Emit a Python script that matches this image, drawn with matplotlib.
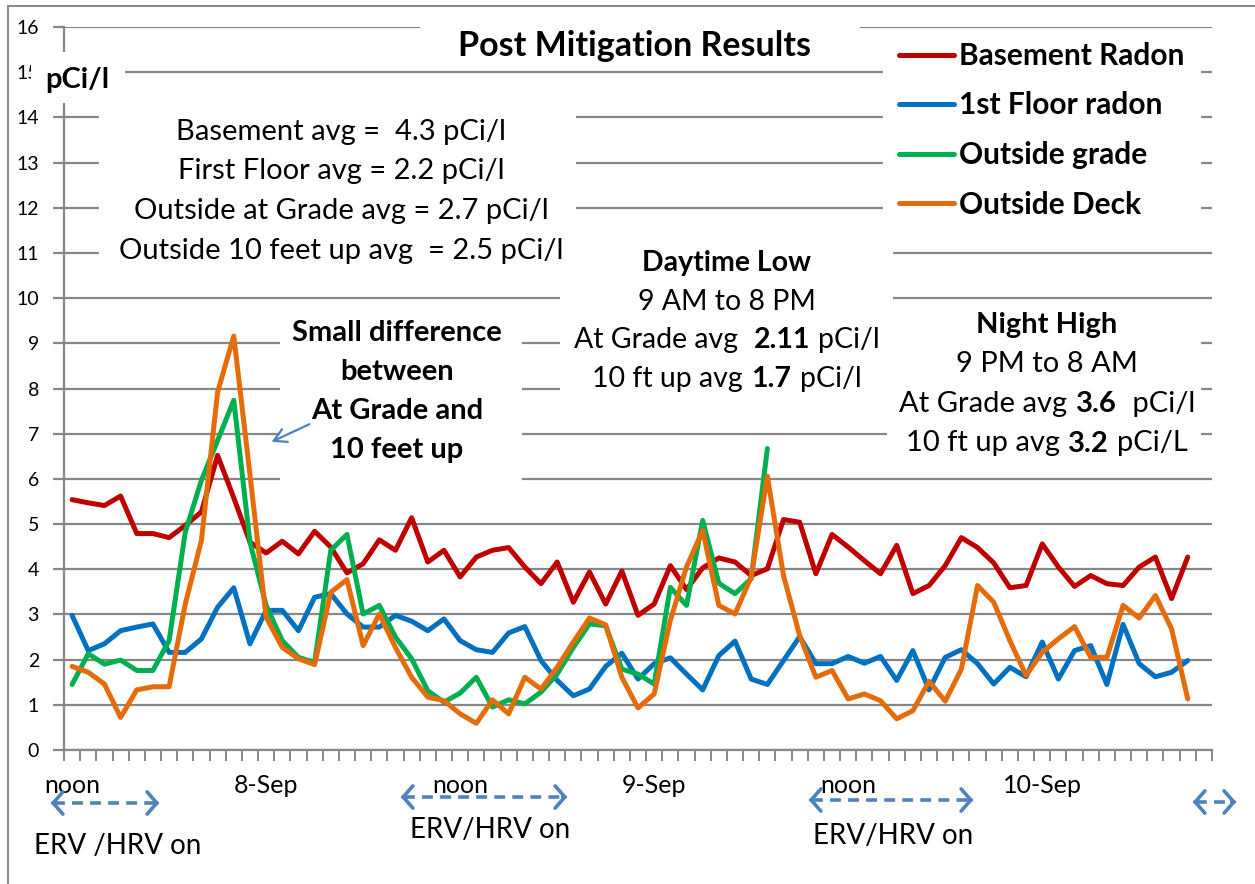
import matplotlib
matplotlib.use("Agg")
import matplotlib.pyplot as plt
import numpy as np
from matplotlib.patches import Rectangle
from matplotlib.lines import Line2D
from matplotlib.offsetbox import TextArea, HPacker, AnnotationBbox

plt.rcParams['font.family'] = ['Lato', 'DejaVu Sans']

# hourly readings, starting at noon on 7-Sep
basement = [5.54, 5.47, 5.41, 5.62, 4.79, 4.79, 4.70, 4.97, 5.27, 6.52,
            5.58, 4.60, 4.36, 4.62, 4.34, 4.84, 4.49, 3.92, 4.12, 4.65,
            4.42, 5.14, 4.16, 4.42, 3.83, 4.27, 4.42, 4.48, 4.05, 3.68,
            4.16, 3.27, 3.94, 3.23, 3.96, 2.98, 3.23, 4.08, 3.55, 4.03,
            4.25, 4.16, 3.86, 4.01, 5.10, 5.04, 3.90, 4.77, 4.49, 4.19,
            3.90, 4.53, 3.46, 3.64, 4.08, 4.70, 4.48, 4.14, 3.59, 3.64,
            4.56, 4.05, 3.62, 3.86, 3.68, 3.64, 4.05, 4.27, 3.35, 4.27]
first_floor = [2.98, 2.20, 2.35, 2.64, 2.72, 2.79, 2.16, 2.16, 2.46, 3.16,
               3.59, 2.35, 3.09, 3.09, 2.64, 3.38, 3.46, 3.01, 2.72, 2.72,
               2.98, 2.85, 2.64, 2.90, 2.42, 2.22, 2.16, 2.59, 2.73, 1.98,
               1.54, 1.20, 1.35, 1.85, 2.14, 1.57, 1.91, 2.04, 1.68, 1.33,
               2.09, 2.41, 1.57, 1.45, 1.98, 2.51, 1.91, 1.91, 2.07, 1.92,
               2.07, 1.54, 2.20, 1.33, 2.05, 2.22, 1.91, 1.46, 1.83, 1.62,
               2.39, 1.57, 2.20, 2.31, 1.45, 2.78, 1.91, 1.62, 1.72, 1.98]
outside_grade = [1.45, 2.13, 1.90, 1.99, 1.76, 1.76, 2.42, 4.82, 5.97, 6.85,
                 7.74, 4.60, 3.20, 2.42, 2.05, 1.94, 4.42, 4.77, 3.01, 3.20,
                 2.50, 2.02, 1.31, 1.06, 1.26, 1.61, 0.95, 1.11, 1.02, 1.28,
                 1.68, 2.27, 2.79, 2.75, 1.79, 1.68, 1.46, 3.60, 3.20, 5.08,
                 3.69, 3.46, 3.79, 6.67]
outside_deck = [1.85, 1.72, 1.46, 0.72, 1.33, 1.40, 1.40, 3.23, 4.64, 7.92,
                9.16, 6.10, 2.94, 2.27, 2.02, 1.89, 3.49, 3.77, 2.31, 3.01,
                2.27, 1.61, 1.17, 1.09, 0.80, 0.59, 1.11, 0.80, 1.61, 1.35,
                1.83, 2.39, 2.92, 2.77, 1.61, 0.93, 1.24, 2.87, 4.05, 4.86,
                3.20, 3.01, 3.83, 6.06, 3.86, 2.53, 1.61, 1.76, 1.13, 1.24,
                1.09, 0.69, 0.87, 1.52, 1.08, 1.79, 3.64, 3.27, 2.42, 1.65,
                2.16, 2.46, 2.73, 2.05, 2.05, 3.20, 2.92, 3.42, 2.68, 1.13]

n_slots = 71
label_pos = [0, 12, 24, 36, 48, 60]
label_txt = ['noon', '8-Sep', 'noon', '9-Sep', 'noon', '10-Sep']

series = [('Basement Radon', basement, '#C00000'),
          ('1st Floor radon', first_floor, '#0070C0'),
          ('Outside grade', outside_grade, '#00B050'),
          ('Outside Deck', outside_deck, '#E46C0A')]

avg_lines = ['Basement avg =  4.3 pCi/l',
             'First Floor avg = 2.2 pCi/l',
             'Outside at Grade avg = 2.7 pCi/l',
             'Outside 10 feet up avg  = 2.5 pCi/l']
note_lines = ['Small difference', 'between', 'At Grade and', '10 feet up']
day_lines = [[('Daytime Low', True)],
             [('9 AM to 8 PM', False)],
             [('At Grade avg ', False), ('2.11', True), ('pCi/l', False)],
             [('10 ft up avg', False), ('1.7', True), ('pCi/l', False)]]
night_lines = [[('Night High', True)],
               [('9 PM to 8 AM', False)],
               [('At Grade avg', False), ('3.6', True), (' pCi/l', False)],
               [('10 ft up avg', False), ('3.2', True), ('pCi/L', False)]]

W, H = 1255, 884
GRID = '#878787'
ARROW = '#4F81BD'


def fx(px):
    return px / W


def fy(py):
    return 1 - py / H


fig = plt.figure(figsize=(W / 100, H / 100), dpi=100)
ax = fig.add_axes([fx(64), fy(750), fx(1212) - fx(64), fy(27) - fy(750)])

for name, vals, col in series:
    ax.plot(np.arange(len(vals)), vals, color=col, lw=3.6, label=name,
            solid_joinstyle='round', solid_capstyle='round')

ax.set_xlim(-0.5, n_slots - 0.5)
ax.set_ylim(0, 16)
ax.set_yticks(range(17))
ax.grid(axis='y', color=GRID, lw=1.6)
ax.set_axisbelow(True)
for s in ['top', 'right']:
    ax.spines[s].set_visible(False)
for s in ['left', 'bottom']:
    ax.spines[s].set_color(GRID)
    ax.spines[s].set_linewidth(1.6)
ax.tick_params(axis='y', length=8, width=1.6, color=GRID, labelsize=14, pad=10)
ax.set_xticks(label_pos)
ax.set_xticklabels(label_txt)
ax.set_xticks(np.arange(-0.5, n_slots, 1), minor=True)
ax.tick_params(axis='x', which='major', length=0, labelsize=18, pad=17)
ax.tick_params(axis='x', which='minor', length=8, width=1.4, color=GRID)


def cover(x0, y0, x1, y1, z=1):
    ax.add_patch(Rectangle((fx(x0), fy(y1)), fx(x1) - fx(x0), fy(y0) - fy(y1),
                           transform=fig.transFigure, facecolor='white',
                           edgecolor='none', zorder=z, clip_on=False))


def rich_line(parts, x, y, size):
    kids = [TextArea(t, textprops=dict(fontsize=size,
                                       fontweight='bold' if b else 'normal'))
            for t, b in parts]
    box = HPacker(children=kids, align='baseline', pad=0, sep=6)
    ab = AnnotationBbox(box, (fx(x), fy(y)), xycoords='figure fraction',
                        frameon=False, box_alignment=(0.5, 0.5), zorder=4)
    ax.add_artist(ab)


# white areas behind the text boxes
cover(31, 52, 125, 103, z=2.6)
cover(420, 10, 860, 62)
cover(883, 35, 1201, 240)
cover(99, 95, 576, 282)
cover(560, 232, 893, 415)
cover(887, 305, 1201, 462)
cover(280, 310, 522, 495)

ax.text(fx(77), fy(80), 'pCi/l', transform=fig.transFigure, fontsize=21,
        fontweight='bold', ha='center', va='center', zorder=4)
ax.text(fx(635), fy(46), 'Post Mitigation Results', transform=fig.transFigure,
        fontsize=24.5, fontweight='bold', ha='center', va='center', zorder=4)

for k, t in enumerate(avg_lines):
    ax.text(fx(341), fy(132 + 39.5 * k), t, transform=fig.transFigure,
            fontsize=21, ha='center', va='center', zorder=4)
for k, t in enumerate(note_lines):
    ax.text(fx(397), fy(333 + 39 * k), t, transform=fig.transFigure,
            fontsize=21, fontweight='bold', ha='center', va='center', zorder=4)
for k, parts in enumerate(day_lines):
    rich_line(parts, 727, 263 + 38.5 * k, 20.5)
for k, parts in enumerate(night_lines):
    rich_line(parts, 1047, 325 + 39.5 * k, 21)

ax.annotate('', xy=(fx(269), fy(443)), xytext=(fx(312), fy(423)),
            xycoords='figure fraction',
            arrowprops=dict(arrowstyle='->,head_length=0.9,head_width=0.5',
                            color=ARROW, lw=1.6), zorder=4)

leg = ax.legend(loc='upper left', bbox_to_anchor=(fx(899), fy(42)),
                bbox_transform=fig.transFigure, frameon=False,
                prop=dict(weight='bold', size=21.5), handlelength=1.85,
                handletextpad=0.17, labelspacing=0.72, borderaxespad=0,
                borderpad=0)

# ERV/HRV arrows under the axis
for x0, x1, y in [(48, 162, 803), (398, 570, 797), (806, 976, 800), (1190, 1239, 802)]:
    fig.add_artist(Line2D([fx(x0 + 6), fx(x1 - 6)], [fy(y), fy(y)],
                          transform=fig.transFigure, color=ARROW, lw=2.6,
                          dashes=(3, 2)))
    for a, b in [(x0, x0 + 10), (x1, x1 - 10)]:
        ax.annotate('', xy=(fx(a), fy(y)), xytext=(fx(b), fy(y)),
                    xycoords='figure fraction',
                    arrowprops=dict(arrowstyle='->,head_length=0.7,head_width=0.8',
                                    color=ARROW, lw=2.6))

for t, x, y in [('ERV /HRV on', 118, 846), ('ERV/HRV on', 490, 830), ('ERV/HRV on', 893, 836)]:
    fig.text(fx(x), fy(y), t, fontsize=20, ha='center', va='center')

fig.add_artist(Rectangle((fx(8), -0.1), 1.2, fy(6) + 0.1,
                         transform=fig.transFigure, fill=False,
                         edgecolor='#8C8C8C', lw=1.5))

fig.savefig('out.png', dpi=100)
